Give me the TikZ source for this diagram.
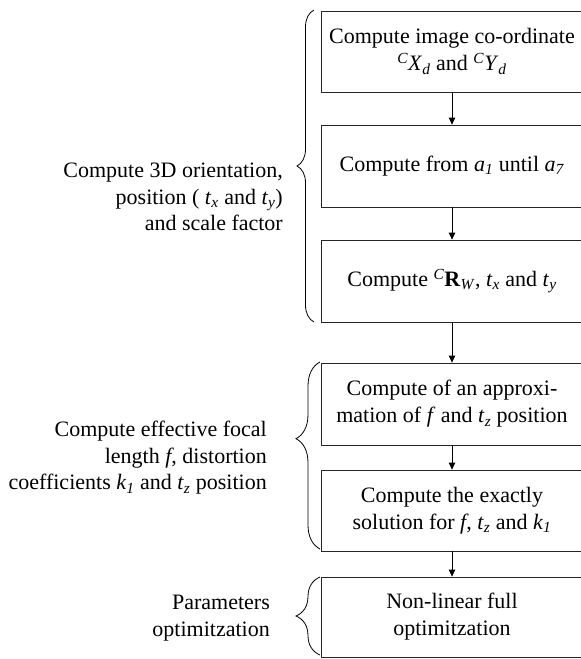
\documentclass[tikz,border=0pt]{standalone}
\usepackage{fontspec}
\setmainfont{Liberation Serif}
\usetikzlibrary{decorations.pathreplacing,arrows.meta}
\newcommand{\iv}[1]{\textit{#1}}
\newcommand{\sbs}[1]{\textsubscript{\textit{#1}}}
\newcommand{\sps}[1]{\textsuperscript{\textit{#1}}}
\begin{document}
\begin{tikzpicture}[x=1pt,y=-1pt,
  box/.style={draw=black!85, line width=0.8pt, minimum width=262pt, align=center, inner sep=0pt,
    font=\fontsize{22}{27}\selectfont},
  lbl/.style={anchor=east, align=right, inner sep=0pt, font=\fontsize{22}{26.5}\selectfont},
  arr/.style={line width=0.8pt, -{Triangle[length=7pt,width=6.5pt]}},
  brc/.style={line width=0.8pt, decorate}]
\useasboundingbox (0,0) rectangle (581,659);
\node[box, minimum height=81pt] (b1) at (452,51.5) {Compute image co-ordinate\\\sps{C}\iv{X}\sbs{d} and \sps{C}\iv{Y}\sbs{d}};
\node[box, minimum height=82pt] (b2) at (452,166) {Compute from \iv{a}\sbs{1} until \iv{a}\sbs{7}};
\node[box, minimum height=82pt] (b3) at (452,281) {Compute \sps{C}\textbf{R}\sbs{W}, \iv{t}\sbs{x} and \iv{t}\sbs{y}};
\node[box, minimum height=82pt] (b4) at (452,404) {Compute of an approxi-\\mation of \iv{f} and \iv{t}\sbs{z} position};
\node[box, minimum height=81pt] (b5) at (452,510.5) {Compute the exactly\\solution for \iv{f}, \iv{t}\sbs{z} and \iv{k}\sbs{1}};
\node[box, minimum height=80pt] (b6) at (452,617) {Non-linear full\\optimitzation};
\draw[arr] (b1) -- (b2);
\draw[arr] (b2) -- (b3);
\draw[arr] (b3) -- (b4);
\draw[arr] (b4) -- (b5);
\draw[arr] (b5) -- (b6);
\coordinate (r1a) at (314,322);
\coordinate (r1b) at (314,10);
\coordinate (r2a) at (320,549);
\coordinate (r2b) at (320,362);
\coordinate (r3a) at (320,655);
\coordinate (r3b) at (320,577);
\draw[brc, decoration={brace, amplitude=17pt, aspect=0.5}] (r1a) -- (r1b);
\draw[brc, decoration={brace, amplitude=24pt, aspect=0.59}] (r2a) -- (r2b);
\draw[brc, decoration={brace, amplitude=24pt, aspect=0.5}] (r3a) -- (r3b);
\node[lbl] (l1) at (283,197) {Compute 3D orientation,\\position ( \iv{t}\sbs{x} and \iv{t}\sbs{y})\\and scale factor};
\node[lbl] (l2) at (267,458) {Compute effective focal\\length \iv{f}, distortion\\coefficients \iv{k}\sbs{1} and \iv{t}\sbs{z} position};
\node[lbl] (l3) at (270,618) {Parameters\\optimitzation};
\end{tikzpicture}
\end{document}
